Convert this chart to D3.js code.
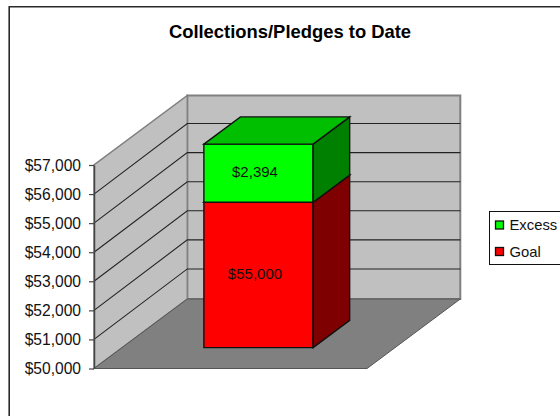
<!DOCTYPE html>
<html>
<head>
<meta charset="utf-8">
<script src="https://cdn.jsdelivr.net/npm/d3@7"></script>
<style>
html, body { margin: 0; padding: 0; background: #fff; overflow: hidden; }
svg { display: block; font-family: "Liberation Sans", Arial, sans-serif; }
</style>
</head>
<body>
<svg width="560" height="416"></svg>
<script>
var categories = ["Collections"];
var seriesNames = ["Goal", "Excess"];
var goal = [55000];
var excess = [2394];
var tickValues = [50000, 51000, 52000, 53000, 54000, 55000, 56000, 57000];
var colors = {
  Goal: {front: "#ff0000", top: "#c00000", side: "#7f0000"},
  Excess: {front: "#00ff00", top: "#00bf00", side: "#008000"}
};

var svg = d3.select("svg");

// chart frame, only the top and left edges fall inside the picture
svg.append("path")
  .attr("d", "M9.2,416V6.8H560")
  .attr("fill", "none").attr("stroke", "#2a2a2a").attr("stroke-width", 1.6);

svg.append("text")
  .attr("x", 290).attr("y", 37.5)
  .attr("text-anchor", "middle")
  .attr("font-size", 18.4).attr("font-weight", "bold")
  .text("Collections/Pledges to Date");

// front plane scales plus the depth offset
var x = d3.scaleBand().domain(categories).range([94, 367]).paddingInner(0.6).paddingOuter(0.3);
var y = d3.scaleLinear().domain([50000, 57000]).range([368.5, 165]).clamp(true);
var depthX = d3.scaleLinear().domain([0, 1]).range([0, 93.3]);
var depthY = d3.scaleLinear().domain([0, 1]).range([0, -69.5]);

function pt(px, v, z) { return [px + depthX(z), y(v) + depthY(z)]; }
var line = d3.line();
function poly(pts, fill, stroke, width) {
  return svg.append("path")
    .attr("d", line(pts) + "Z")
    .attr("fill", fill)
    .attr("stroke", stroke || "none")
    .attr("stroke-width", width || 1)
    .attr("stroke-linejoin", "miter");
}

var xL = x.range()[0], xR = x.range()[1];
var vMin = y.domain()[0], vMax = y.domain()[1];

// walls and floor
poly([pt(xL, vMin, 1), pt(xR, vMin, 1), pt(xR, vMax, 1), pt(xL, vMax, 1)], "#c0c0c0", "#808080", 2);
poly([pt(xL, vMin, 0), pt(xL, vMin, 1), pt(xL, vMax, 1), pt(xL, vMax, 0)], "#c0c0c0", "#808080", 1.5);
poly([pt(xL, vMin, 0), pt(xR, vMin, 0), pt(xR, vMin, 1), pt(xL, vMin, 1)], "#808080", "#555", 1);

// gridlines run along the side wall and the back wall
tickValues.slice(1, -1).forEach(function(t) {
  var a = pt(xL, t, 0), b = pt(xL, t, 1), c = pt(xR, t, 1);
  b[1] -= 1; c[1] -= 1;
  svg.append("path")
    .attr("d", line([a, b, c]))
    .attr("fill", "none").attr("stroke", "#222").attr("stroke-width", 1.1);
});

// axis
var axis = svg.append("g")
  .attr("transform", "translate(" + xL + ",0)")
  .call(d3.axisLeft(y).tickValues(tickValues).tickSizeInner(5).tickSizeOuter(0).tickPadding(8)
    .tickFormat(function(d) { return d3.format("$,d")(d); }));
axis.select(".domain").attr("stroke", "#444").attr("stroke-width", 1.5);
axis.selectAll("line").attr("stroke", "#444").attr("stroke-width", 1.2);
axis.selectAll("text").attr("font-size", 15.6).attr("font-family", "Liberation Sans").attr("fill", "#111");

// stacked 3D column, the top clips at the axis maximum
var z0 = 0.3, z1 = 0.692;
var stacked = d3.stack().keys(seriesNames)(categories.map(function(c, i) {
  return {cat: c, Goal: goal[i], Excess: excess[i]};
}));

stacked.forEach(function(layer) {
  var c = colors[layer.key];
  layer.forEach(function(d) {
    var l = x(d.data.cat), r = l + x.bandwidth();
    var v0 = d[0] === 0 ? vMin : d[0], v1 = Math.min(d[1], vMax);
    poly([pt(l, v0, z0), pt(r, v0, z0), pt(r, v1, z0), pt(l, v1, z0)], c.front, "#111", 1.4);
    poly([pt(r, v0, z0), pt(r, v0, z1), pt(r, v1, z1), pt(r, v1, z0)], c.side, "#111", 1.4);
    poly([pt(l, v1, z0), pt(r, v1, z0), pt(r, v1, z1), pt(l, v1, z1)], c.top, "#111", 1.4);
  });
});

// value labels
var labelY = {Goal: 279, Excess: 177};
stacked.forEach(function(layer) {
  var val = layer.key === "Goal" ? goal[0] : excess[0];
  svg.append("text")
    .attr("x", x(categories[0]) + x.bandwidth() / 2 + depthX(z0) - 3.5)
    .attr("y", labelY[layer.key])
    .attr("text-anchor", "middle")
    .attr("font-size", 15).attr("fill", "#111")
    .text(d3.format("$,d")(val));
});

// legend, its right edge runs past the picture
svg.append("rect")
  .attr("x", 489.5).attr("y", 211.5).attr("width", 90).attr("height", 53)
  .attr("fill", "#fff").attr("stroke", "#111").attr("stroke-width", 1);
seriesNames.slice().reverse().forEach(function(name, i) {
  var ly = 225 + i * 26.5;
  svg.append("rect")
    .attr("x", 495.5).attr("y", ly - 4).attr("width", 8).attr("height", 8)
    .attr("fill", colors[name].front).attr("stroke", "#111").attr("stroke-width", 1.3);
  svg.append("text")
    .attr("x", 509.5).attr("y", ly + 5)
    .attr("font-size", 14.8).attr("fill", "#111")
    .text(name);
});
</script>
</body>
</html>
